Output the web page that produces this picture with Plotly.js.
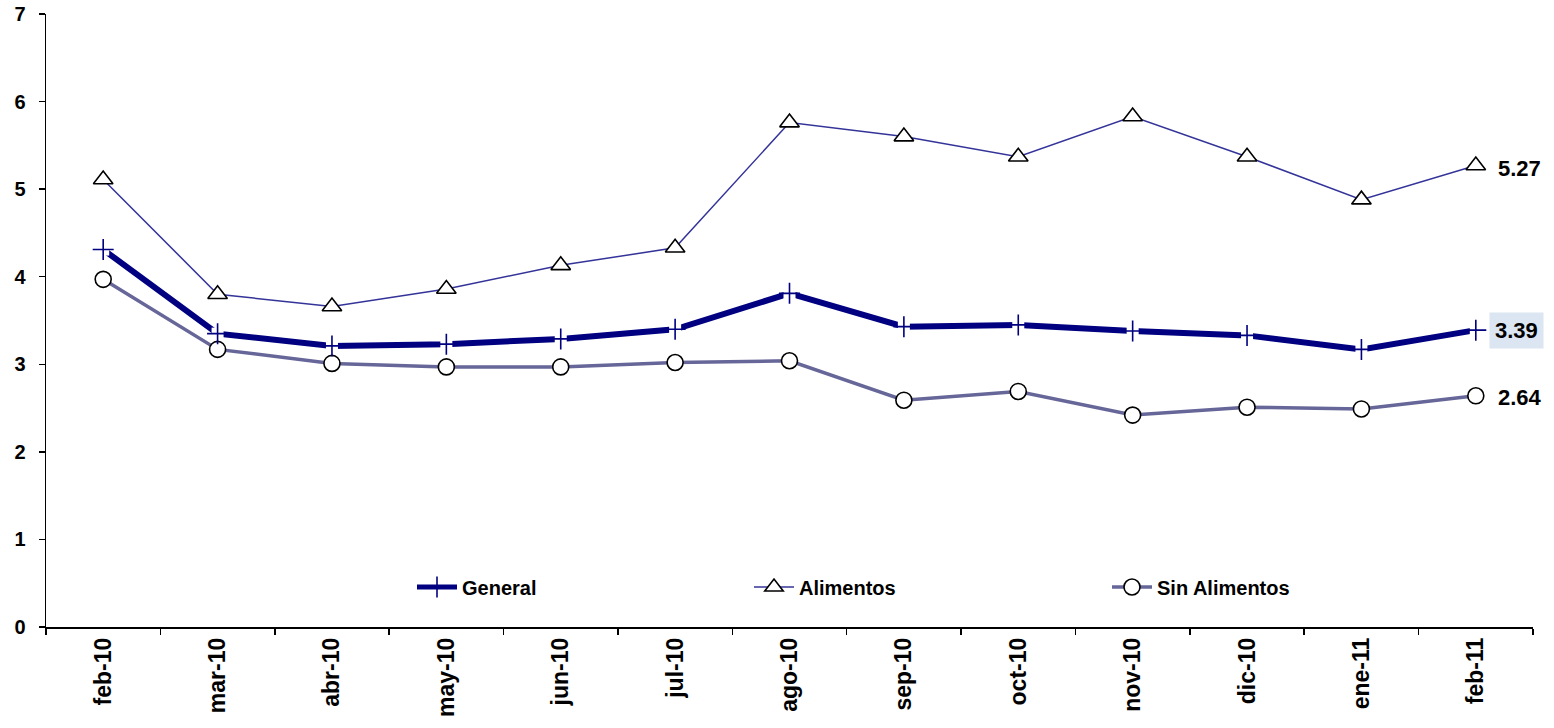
<!DOCTYPE html>
<html>
<head>
<meta charset="utf-8">
<script src="https://cdn.plot.ly/plotly-3.0.1.min.js"></script>
<style>html,body{margin:0;padding:0;background:#fff;}#chart{width:1554px;height:728px;}</style>
</head>
<body>
<div id="chart"></div>
<script>
const categories = ['feb-10','mar-10','abr-10','may-10','jun-10','jul-10','ago-10','sep-10','oct-10','nov-10','dic-10','ene-11','feb-11'];
const general = [4.31, 3.35, 3.21, 3.23, 3.29, 3.40, 3.81, 3.43, 3.45, 3.38, 3.33, 3.17, 3.39];
const alimentos = [5.11, 3.80, 3.66, 3.86, 4.13, 4.33, 5.76, 5.60, 5.37, 5.83, 5.37, 4.88, 5.27];
const sinAlimentos = [3.97, 3.17, 3.01, 2.97, 2.97, 3.02, 3.04, 2.59, 2.69, 2.42, 2.51, 2.49, 2.64];
const seriesNames = ['General', 'Alimentos', 'Sin Alimentos'];
const yTicks = [0, 1, 2, 3, 4, 5, 6, 7];

const FONT = 'Liberation Sans, Arial, sans-serif';
const last = categories.length - 1;

const traces = [
  {
    x: categories, y: alimentos, name: seriesNames[1], type: 'scatter', mode: 'lines+markers',
    line: {color: '#333399', width: 1.5},
    marker: {symbol: 'triangle-up', size: 17, color: '#ffffff', line: {color: '#000000', width: 1.6}},
    legend: 'legend2'
  },
  {
    x: categories, y: sinAlimentos, name: seriesNames[2], type: 'scatter', mode: 'lines+markers',
    line: {color: '#666699', width: 3.5},
    marker: {symbol: 'circle', size: 16, color: '#ffffff', line: {color: '#000000', width: 1.6}},
    legend: 'legend3'
  },
  {
    x: categories, y: general, name: seriesNames[0], type: 'scatter', mode: 'lines',
    line: {color: '#000080', width: 6},
    showlegend: false, hoverinfo: 'skip'
  },
  {
    x: categories, y: general, type: 'scatter', mode: 'markers',
    marker: {symbol: 'square', size: 12, color: '#ffffff', line: {width: 0}},
    showlegend: false, hoverinfo: 'skip'
  },
  {
    x: categories, y: general, name: seriesNames[0], type: 'scatter', mode: 'markers',
    marker: {symbol: 'cross-thin-open', size: 15, color: '#000080', line: {color: '#000080', width: 1.6}},
    showlegend: false
  },
  {
    x: [null], y: [null], name: seriesNames[0], type: 'scatter', mode: 'lines+markers',
    line: {color: '#000080', width: 5},
    marker: {symbol: 'cross-thin-open', size: 15, color: '#000080', line: {color: '#000080', width: 1.6}},
    legend: 'legend'
  }
];

const PL = 46, PR = 1533, PT = 14, PB = 627;
const legendFont = {family: FONT, size: 20, color: '#000000', weight: 'bold'};
function mkLegend(px) {
  return {
    xref: 'paper', yref: 'paper', x: (px - PL) / (PR - PL), y: (PB - 587) / (PB - PT),
    xanchor: 'left', yanchor: 'middle', orientation: 'h',
    bgcolor: 'rgba(0,0,0,0)', borderwidth: 0, font: legendFont,
    itemwidth: 40
  };
}

const labelFont = {family: FONT, size: 22, color: '#000000', weight: 'bold'};
const layout = {
  width: 1554, height: 728,
  margin: {l: PL, r: 1554 - PR, t: PT, b: 728 - PB, autoexpand: false},
  paper_bgcolor: '#ffffff', plot_bgcolor: '#ffffff',
  showlegend: true,
  legend: mkLegend(412),
  legend2: mkLegend(749),
  legend3: mkLegend(1107),
  xaxis: {
    type: 'category', range: [-0.5, categories.length - 0.5], automargin: false,
    showline: true, linecolor: '#000000', linewidth: 1.5,
    ticks: 'outside', tickson: 'boundaries', ticklen: 6, tickcolor: '#000000', tickwidth: 1.5,
    tickangle: -90, showgrid: false, zeroline: false,
    tickfont: {family: FONT, size: 23, color: '#000000', weight: 'bold'},
    fixedrange: true
  },
  yaxis: {
    range: [0, 7], tickvals: yTicks, ticktext: yTicks.map(String), automargin: false,
    showline: true, linecolor: '#000000', linewidth: 1.5,
    ticks: 'outside', ticklen: 6, tickcolor: '#000000', tickwidth: 1.5, ticklabelstandoff: 9,
    showgrid: false, zeroline: false,
    tickfont: {family: FONT, size: 20, color: '#000000', weight: 'bold'},
    fixedrange: true
  },
  annotations: [
    {x: categories[last], y: alimentos[last], text: alimentos[last].toFixed(2), showarrow: false,
     xanchor: 'left', yanchor: 'middle', xshift: 20, yshift: -3, font: labelFont},
    {x: categories[last], y: general[last], text: general[last].toFixed(2), showarrow: false,
     xanchor: 'left', yanchor: 'middle', xshift: 13, font: labelFont, bgcolor: '#dce6f2', borderpad: 5},
    {x: categories[last], y: sinAlimentos[last], text: sinAlimentos[last].toFixed(2), showarrow: false,
     xanchor: 'left', yanchor: 'middle', xshift: 20, yshift: -2, font: labelFont}
  ]
};

Plotly.newPlot('chart', traces, layout, {displayModeBar: false, staticPlot: true});
</script>
</body>
</html>
